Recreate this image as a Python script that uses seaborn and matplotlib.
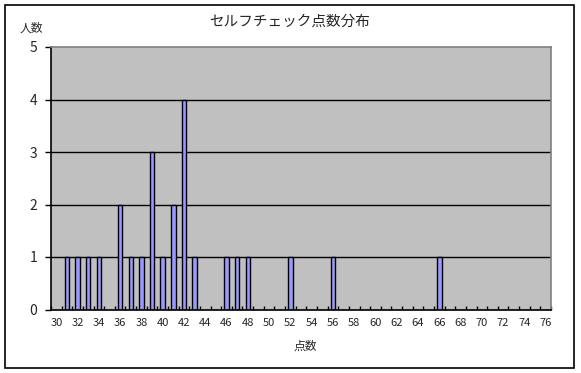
import matplotlib
matplotlib.use("Agg")
import matplotlib.pyplot as plt
import seaborn as sns
import pandas as pd
import numpy as np
from matplotlib.patches import Rectangle

sns.set_style("white", {"xtick.bottom": True, "ytick.left": True})
plt.rcParams['font.family'] = ['Noto Sans CJK JP', 'DejaVu Sans']

scores = list(range(30, 77))
score_values = [31, 32, 33, 34, 36, 37, 38, 39, 40, 41, 42, 43, 46, 47, 48, 52, 56, 66]
score_counts = [1, 1, 1, 1, 2, 1, 1, 3, 1, 2, 4, 1, 1, 1, 1, 1, 1, 1]
tick_labels = [str(s) if s % 2 == 0 else "" for s in scores]

cmap = dict(zip(score_values, score_counts))
df = pd.DataFrame({"score": [str(s) for s in scores],
                   "count": [cmap.get(s, 0) for s in scores]})

fig = plt.figure(figsize=(5.81, 3.73), dpi=100)
ax = fig.add_axes([51/581, 1-309.5/373, 500/581, (309.5-47)/373])

ax.set_facecolor("#C0C0C0")
for y in [1, 2, 3, 4]:
    ax.axhline(y, color="black", lw=1.0, zorder=1)

sns.barplot(data=df, x="score", y="count", order=df["score"], color="#9999FF",
            width=0.42, edgecolor="black", linewidth=1.0, saturation=1, ax=ax, zorder=2)

ax.set_xlim(-0.5, len(scores) - 0.5)
ax.set_ylim(0, 5)
ax.set_xticks(range(len(scores)))
ax.set_xticklabels(tick_labels, fontsize=8)
ax.set_yticks([0, 1, 2, 3, 4, 5])
ax.set_yticklabels(["0", "1", "2", "3", "4", "5"], fontsize=10)
ax.tick_params(axis="x", which="major", length=0, pad=6)
ax.tick_params(axis="y", length=4, direction="out", color="black", left=True, pad=6, width=1)
# inner minor ticks at category boundaries
ax.set_xticks(np.arange(-0.5, len(scores), 1), minor=True)
ax.tick_params(axis="x", which="minor", length=3, width=1, direction="in",
               bottom=True, color="black")

for side in ["left", "bottom"]:
    ax.spines[side].set_color("black")
    ax.spines[side].set_linewidth(1.2)
for side in ["top", "right"]:
    ax.spines[side].set_visible(True)
    ax.spines[side].set_color("#808080")
    ax.spines[side].set_linewidth(1.2)

ax.set_xlabel("")
ax.set_ylabel("")

fig.text(290/581, 1-22/373, "セルフチェック点数分布", ha="center", va="center", fontsize=10.5)
fig.text(31/581, 1-28/373, "人数", ha="center", va="center", fontsize=8.5)
fig.text(305/581, 1-346/373, "点数", ha="center", va="center", fontsize=8.5)

fig.patches.append(Rectangle((5/581, 1-367.5/373), 568.5/581, 362.5/373,
                             transform=fig.transFigure, fill=False,
                             edgecolor="black", linewidth=1.2))

fig.savefig("out.png", dpi=100)
